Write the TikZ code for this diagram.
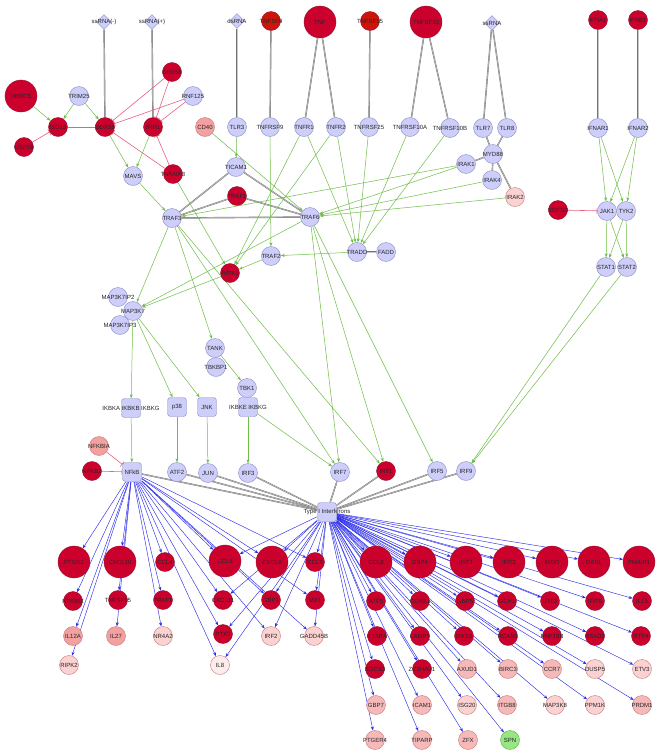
\documentclass[tikz,border=0pt]{standalone}
\usepackage{fontspec}
\setmainfont{Liberation Sans}
\usetikzlibrary{arrows.meta,shapes.geometric}
\pgfdeclarelayer{back}
\pgfdeclarelayer{bg}
\pgfsetlayers{back,bg,main}
\definecolor{lav}{RGB}{206,206,250}
\definecolor{lavd}{RGB}{140,140,195}
\definecolor{rd}{RGB}{204,0,45}
\definecolor{rdd}{RGB}{150,20,50}
\definecolor{rdo}{RGB}{205,20,10}
\definecolor{pk}{RGB}{242,160,160}
\definecolor{mpk}{RGB}{246,185,185}
\definecolor{lpk}{RGB}{250,210,210}
\definecolor{vlpk}{RGB}{253,236,236}
\definecolor{pkd}{RGB}{200,120,120}
\definecolor{grn}{RGB}{150,230,130}
\definecolor{grnd}{RGB}{90,170,80}
\definecolor{actc}{RGB}{110,190,70}
\definecolor{inhc}{RGB}{232,96,128}
\definecolor{bindc}{RGB}{115,115,115}
\definecolor{bindl}{RGB}{200,200,200}
\definecolor{txc}{RGB}{45,45,235}
\newcommand\gnode[4]{\node[#1,label={[lbl]center:#4}] (#2) at (#3) {};}
\begin{document}
\begin{tikzpicture}[x=1pt,y=-1pt,
 base/.style={circle,draw,line width=0.4pt,inner sep=0pt,minimum size=19pt},
 lavn/.style={base,fill=lav,draw=lavd},
 redn/.style={base,fill=rd,draw=rdd},
 redo/.style={base,fill=rdo,draw=rdd},
 pkn/.style={base,fill=pk,draw=pkd},
 mpkn/.style={base,fill=mpk,draw=pkd},
 lpkn/.style={base,fill=lpk,draw=pkd},
 vlpkn/.style={base,fill=vlpk,draw=pkd},
 grnn/.style={base,fill=grn,draw=grnd},
 big/.style={minimum size=32pt},
 sq/.style={rectangle,rounded corners=3pt},
 dia/.style={diamond,draw=lavd,fill=lav,inner sep=0pt,minimum size=15pt,line width=0.4pt},
 lbl/.style={font=\fontsize{6}{6}\selectfont,text=black!85,inner sep=0pt},
 actE/.style={draw=actc,line width=0.5pt,-{Stealth[length=4pt,width=3pt]}},
 inhE/.style={draw=inhc,line width=0.6pt,-{Bar[width=6pt]}},
 bindE/.style={draw=bindc,line width=0.45pt,double=bindl,double distance=0.5pt},
 txE/.style={draw=txc,line width=0.45pt,-{Stealth[length=4pt,width=3pt]}},
]
\useasboundingbox (0,0) rectangle (661,756);
\begin{pgfonlayer}{back}
\fill[white] (0,0) rectangle (661,756);
\end{pgfonlayer}
% ---- top row
\gnode{dia}{ssRNAm}{104,22}{ssRNA(-)}
\gnode{dia}{ssRNAp}{152,22}{ssRNA(+)}
\gnode{dia}{dsRNA}{237,21}{dsRNA}
\gnode{redo}{TNFSF9}{271,21}{TNFSF9}
\gnode{redn,big}{TNF}{320,22}{TNF}
\gnode{redo}{TNFSF15}{370,21}{TNFSF15}
\gnode{redn,big}{TNFSF10}{426,22}{TNFSF10}
\gnode{dia}{ssRNA}{492,23}{ssRNA}
\gnode{redn}{IFNA1}{598,20}{IFNA1}
\gnode{redn}{IFNB1}{638,20}{IFNB1}
% ---- RIG-I area
\gnode{redn,big}{HERC5}{21,96}{HERC5}
\gnode{lavn}{TRIM25}{79,96}{TRIM25}
\gnode{redn}{DHX58}{172,72}{DHX58}
\gnode{lavn}{RNF125}{193,96}{RNF125}
\gnode{redn}{ISG15}{58,127}{ISG15}
\gnode{redn}{USP18}{24,147}{USP18}
\gnode{redn}{DDX58}{105,127}{DDX58}
\gnode{redn}{IFIH1}{153,127}{IFIH1}
\gnode{pkn}{CD40}{205,127}{CD40}
\gnode{lavn}{MAVS}{133,176}{MAVS}
\gnode{redn}{TNFAIP3}{173,174}{TNFAIP3}
% ---- receptors
\gnode{lavn}{TLR3}{237,127}{TLR3}
\gnode{lavn}{TNFRSF9}{270,127}{TNFRSF9}
\gnode{lavn}{TNFR1}{304,127}{TNFR1}
\gnode{lavn}{TNFR2}{336,127}{TNFR2}
\gnode{lavn}{TNFRSF25}{369,127}{TNFRSF25}
\gnode{lavn}{TNFRSF10A}{410,127}{TNFRSF10A}
\gnode{lavn}{TNFRSF10B}{450,128}{TNFRSF10B}
\gnode{lavn}{TLR7}{483,128}{TLR7}
\gnode{lavn}{TLR8}{507,128}{TLR8}
\gnode{lavn}{MYD88}{493,154}{MYD88}
\gnode{lavn}{IRAK1}{466,164}{IRAK1}
\gnode{lavn}{IRAK4}{492,180}{IRAK4}
\gnode{lpkn}{IRAK2}{515,197}{IRAK2}
\gnode{lavn}{IFNAR1}{598,128}{IFNAR1}
\gnode{lavn}{IFNAR2}{638,128}{IFNAR2}
\gnode{redn}{SOCS3}{558,210}{SOCS3}
\gnode{lavn}{JAK1}{607,211}{JAK1}
\gnode{lavn}{TYK2}{626,211}{TYK2}
\gnode{lavn}{STAT1}{606,267}{STAT1}
\gnode{lavn}{STAT2}{627,267}{STAT2}
% ---- adaptors
\gnode{lavn}{TICAM1}{236,167}{TICAM1}
\gnode{redn}{TRAF1}{237,196}{TRAF1}
\gnode{lavn}{TRAF3}{172,218}{TRAF3}
\gnode{lavn}{TRAF6}{310,217}{TRAF6}
\gnode{lavn}{TRADD}{357,252}{TRADD}
\gnode{lavn}{FADD}{386,252}{FADD}
\gnode{lavn}{TRAF2}{271,256}{TRAF2}
\gnode{redn}{RIPK1}{230,273}{RIPK1}
\gnode{lavn}{MAP3K7IP2}{118,297}{MAP3K7IP2}
\gnode{lavn}{MAP3K7}{133,311}{MAP3K7}
\gnode{lavn}{MAP3K7IP3}{120,325}{MAP3K7IP3}
\gnode{lavn}{TANK}{215,348}{TANK}
\gnode{lavn}{TBKBP1}{216,367}{TBKBP1}
\gnode{lavn}{TBK1}{247,388}{TBK1}
\gnode{lavn,sq}{IKBKE}{248,407}{IKBKE IKBKG}
\gnode{lavn,sq}{IKBKB}{131,408}{IKBKA IKBKB IKBKG}
\gnode{lavn,sq}{p38}{177,407}{p38}
\gnode{lavn,sq}{JNK}{207,407}{JNK}
\gnode{pkn}{NFKBIA}{99,446}{NFKBIA}
\gnode{redn}{NFKB2}{92,471}{NFKB2}
\gnode{lavn,sq}{NFkB}{132,472}{NFkB}
\gnode{lavn}{ATF2}{177,472}{ATF2}
\gnode{lavn}{JUN}{208,473}{JUN}
\gnode{lavn}{IRF3}{248,473}{IRF3}
\gnode{lavn}{IRF7}{340,472}{IRF7}
\gnode{redn}{IRF1}{386,471}{IRF1}
\gnode{lavn}{IRF5}{437,471}{IRF5}
\gnode{lavn}{IRF9}{466,471}{IRF9}
\gnode{lavn,sq}{TypeI}{327,512}{Type I Interferons}
% ---- bottom left group
\gnode{redn,big}{PTGS2}{74,562}{PTGS2}
\gnode{redn,big}{CXCL10}{120,562}{CXCL10}
\gnode{redn}{CCL4}{165,562}{CCL4}
\gnode{redn,big}{CCL5}{225,561}{CCL5}
\gnode{redn,big}{CXCL9}{272,562}{CXCL9}
\gnode{redn}{CCL3}{315,562}{CCL3}
\gnode{redn}{NFKBIZ}{73,601}{NFKBIZ}
\gnode{redn}{TNFSF15b}{118,600}{TNFSF15}
\gnode{redn}{TRAF1b}{163,600}{TRAF1}
\gnode{redn}{CXCL11}{223,600}{CXCL11}
\gnode{redn}{GBP1}{271,600}{GBP1}
\gnode{redn}{MX1}{315,600}{MX1}
\gnode{pkn}{IL12A}{73,636}{IL12A}
\gnode{pkn}{IL27}{116,636}{IL27}
\gnode{lpkn}{NR4A2}{163,636}{NR4A2}
\gnode{redn}{PTX3}{223,634}{PTX3}
\gnode{lpkn}{IRF2}{271,636}{IRF2}
\gnode{lpkn}{GADD45B}{314,636}{GADD45B}
\gnode{lpkn}{RIPK2}{69,665}{RIPK2}
\gnode{vlpkn}{IL8}{220,665}{IL8}
% ---- bottom right group
\gnode{redn,big}{CCL8}{376,562}{CCL8}
\gnode{redn,big}{GBP4}{420,562}{GBP4}
\gnode{redn,big}{IFIT1}{466,562}{IFIT1}
\gnode{redn,big}{IFIT2}{509,562}{IFIT2}
\gnode{redn,big}{INDO}{552,562}{INDO}
\gnode{redn,big}{OASL}{594,562}{OASL}
\gnode{redn,big}{PMAIP1}{639,562}{PMAIP1}
\gnode{redn}{ATF5}{376,601}{ATF5}
\gnode{redn}{CCNB1}{420,601}{CCNB1}
\gnode{redn}{GBP5}{465,601}{GBP5}
\gnode{redn}{GCH1}{507,601}{GCH1}
\gnode{redn}{IFIT3}{550,601}{IFIT3}
\gnode{redn}{IFIT5}{595,601}{IFIT5}
\gnode{redn}{IL15}{642,601}{IL15}
\gnode{redn}{IL15RA}{377,636}{IL15RA}
\gnode{redn}{LAMP3}{420,636}{LAMP3}
\gnode{redn}{OAS3}{464,636}{OAS3}
\gnode{redn}{RCAN1}{508,636}{RCAN1}
\gnode{redn}{RNF19B}{552,636}{RNF19B}
\gnode{redn}{RSAD2}{595,636}{RSAD2}
\gnode{redn}{RTP4}{641,636}{RTP4}
\gnode{redn}{SOCS3b}{375,669}{SOCS3}
\gnode{redn}{ZC3HAV1}{422,669}{ZC3HAV1}
\gnode{mpkn}{AXUD1}{467,669}{AXUD1}
\gnode{mpkn}{BIRC3}{508,669}{BIRC3}
\gnode{mpkn}{CCR7}{552,669}{CCR7}
\gnode{lpkn}{DUSP5}{595,669}{DUSP5}
\gnode{lpkn}{ETV3}{642,669}{ETV3}
\gnode{mpkn}{GBP7}{376,705}{GBP7}
\gnode{mpkn}{ICAM1}{422,705}{ICAM1}
\gnode{lpkn}{ISG20}{467,705}{ISG20}
\gnode{mpkn}{ITGB8}{507,705}{ITGB8}
\gnode{lpkn}{MAP3K8}{555,705}{MAP3K8}
\gnode{lpkn}{PPM1K}{595,705}{PPM1K}
\gnode{mpkn}{PRDM1}{642,705}{PRDM1}
\gnode{mpkn}{PTGER4}{375,740}{PTGER4}
\gnode{mpkn}{TIPARP}{422,740}{TIPARP}
\gnode{mpkn}{ZFX}{468,740}{ZFX}
\gnode{grnn}{SPN}{510,740}{SPN}
% ================= edges
\begin{pgfonlayer}{bg}
% binding (gray)
\foreach \a/\b in {ssRNAm/DDX58,ssRNAp/IFIH1,dsRNA/TLR3,TNFSF9/TNFRSF9,TNF/TNFR1,TNF/TNFR2,
  TNFSF15/TNFRSF25,TNFSF10/TNFRSF10A,TNFSF10/TNFRSF10B,ssRNA/TLR7,ssRNA/TLR8,TLR7/MYD88,TLR8/MYD88,
  MYD88/IRAK1,MYD88/IRAK4,MYD88/IRAK2,IFNA1/IFNAR1,IFNB1/IFNAR2,TICAM1/TRAF3,TICAM1/TRAF6,
  TRAF1/TRAF3,TRAF1/TRAF6,TRAF3/TRAF6,TRADD/FADD,
  NFkB/TypeI,ATF2/TypeI,JUN/TypeI,IRF3/TypeI,IRF7/TypeI,IRF1/TypeI,IRF5/TypeI,IRF9/TypeI}
  {\draw[bindE] (\a) -- (\b);}
% inhibition (pink)
\foreach \a/\b in {USP18/ISG15,ISG15/DDX58,DHX58/DDX58,DHX58/IFIH1,RNF125/DDX58,RNF125/IFIH1,
  TNFAIP3/DDX58,TNFAIP3/IFIH1,SOCS3/JAK1,NFKBIA/NFkB,NFKB2/NFkB}
  {\draw[inhE] (\a) -- (\b);}
% activation (green)
\foreach \a/\b in {HERC5/ISG15,TRIM25/ISG15,TRIM25/DDX58,DDX58/MAVS,IFIH1/MAVS,MAVS/TRAF3,
  TNFAIP3/RIPK1,CD40/TRAF6,TLR3/TICAM1,TNFRSF9/TRAF2,TNFR1/RIPK1,TNFR2/RIPK1,
  TNFR1/TRADD,TNFR2/TRADD,TNFRSF25/TRADD,TNFRSF10A/TRADD,TNFRSF10B/TRADD,
  IRAK1/TRAF3,IRAK1/TRAF6,IRAK4/TRAF6,IRAK2/TRAF6,
  IFNAR1/JAK1,IFNAR1/TYK2,IFNAR2/JAK1,IFNAR2/TYK2,JAK1/STAT1,JAK1/STAT2,TYK2/STAT1,TYK2/STAT2,
  STAT1/IRF9,STAT2/IRF9,TRADD/TRAF2,TRAF2/RIPK1,
  TRAF3/MAP3K7,TRAF6/MAP3K7,RIPK1/MAP3K7,TRAF3/TANK,TRAF3/IRF7,TRAF3/IRF1,
  TRAF6/IRF7,TRAF6/IRF1,TRAF6/IRF5,TANK/TBK1,IKBKE/IRF3,IKBKE/IRF7,
  MAP3K7/IKBKB,MAP3K7/p38,MAP3K7/JNK,IKBKB/NFkB,p38/ATF2,JNK/JUN}
  {\draw[actE] (\a) -- (\b);}
% transcription (blue)
\foreach \b in {PTGS2,NFKBIZ,IL12A,RIPK2,CXCL10,TNFSF15b,IL27,CCL4,TRAF1b,NR4A2,CCL5,CXCL11,
  PTX3,IL8,CXCL9,GBP1,IRF2,CCL3,MX1,GADD45B}
  {\draw[txE] (NFkB) -- (\b);}
\foreach \b in {CCL5,CXCL9,CCL3,CXCL11,GBP1,MX1,PTX3,IRF2,GADD45B,IL8,
  CCL8,GBP4,IFIT1,IFIT2,INDO,OASL,PMAIP1,ATF5,CCNB1,GBP5,GCH1,IFIT3,IFIT5,IL15,
  IL15RA,LAMP3,OAS3,RCAN1,RNF19B,RSAD2,RTP4,SOCS3b,ZC3HAV1,AXUD1,BIRC3,CCR7,DUSP5,ETV3,
  GBP7,ICAM1,ISG20,ITGB8,MAP3K8,PPM1K,PRDM1,PTGER4,TIPARP,ZFX,SPN}
  {\draw[txE] (TypeI) -- (\b);}
\end{pgfonlayer}
\end{tikzpicture}
\end{document}
